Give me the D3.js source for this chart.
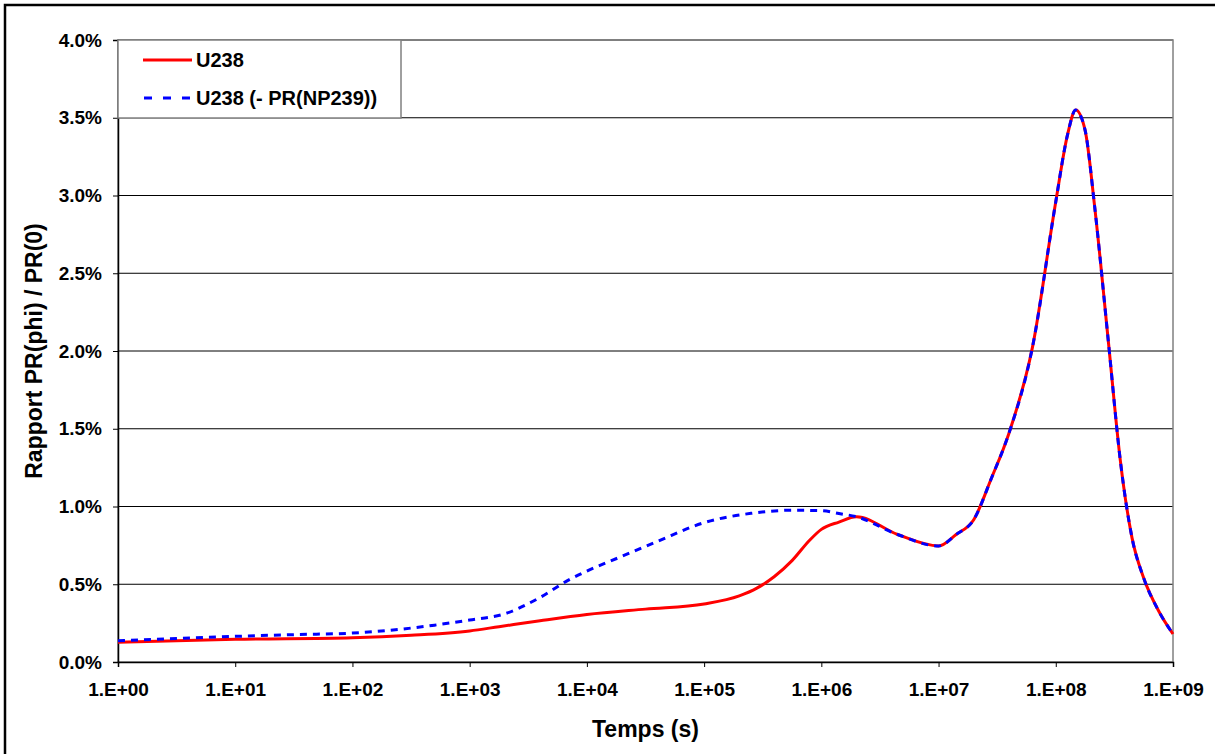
<!DOCTYPE html>
<html>
<head>
<meta charset="utf-8">
<script src="https://cdn.jsdelivr.net/npm/d3@7"></script>
<style>
  html, body { margin: 0; padding: 0; background: #fff; }
  svg { display: block; }
  text { font-family: "Liberation Sans", Arial, sans-serif; font-weight: bold; fill: #000; }
</style>
</head>
<body>
<svg id="chart" width="1215" height="754"></svg>
<script>
// ---- Data (time in seconds as log10 exponent, values in %) ----
const xTickLabels = ["1.E+00","1.E+01","1.E+02","1.E+03","1.E+04","1.E+05","1.E+06","1.E+07","1.E+08","1.E+09"];
const yTickLabels = ["0.0%","0.5%","1.0%","1.5%","2.0%","2.5%","3.0%","3.5%","4.0%"];
const seriesNames = ["U238", "U238 (- PR(NP239))"];

const u238Exp = [0, 1, 2, 2.5, 3, 3.25, 3.6, 4, 4.5, 5, 5.3, 5.45, 5.6, 5.75, 5.9, 6, 6.15, 6.3, 6.65, 7, 7.15, 7.3, 7.45, 7.6, 7.8, 8.0, 8.1, 8.17, 8.25, 8.33, 8.45, 8.55, 8.65, 8.75, 8.88, 9];
const u238Val = [0.127, 0.146, 0.156, 0.172, 0.20, 0.227, 0.265, 0.305, 0.34, 0.373, 0.425, 0.475, 0.55, 0.652, 0.783, 0.853, 0.90, 0.934, 0.82, 0.746, 0.82, 0.915, 1.18, 1.47, 2.02, 2.96, 3.39, 3.55, 3.42, 2.94, 2.05, 1.30, 0.80, 0.54, 0.325, 0.18];

const npExp = [0, 0.3, 1, 1.5, 2, 2.4, 2.7, 3, 3.3, 3.6, 3.85, 4, 4.3, 4.6, 5, 5.4, 5.75, 6, 6.15, 6.3, 6.65, 7, 7.15, 7.3, 7.45, 7.6, 7.8, 8.0, 8.1, 8.17, 8.25, 8.33, 8.45, 8.55, 8.65, 8.75, 8.88, 9];
const npVal = [0.137, 0.146, 0.165, 0.176, 0.186, 0.21, 0.237, 0.27, 0.31, 0.415, 0.53, 0.585, 0.68, 0.775, 0.896, 0.956, 0.976, 0.973, 0.955, 0.934, 0.82, 0.746, 0.82, 0.915, 1.18, 1.47, 2.02, 2.96, 3.39, 3.55, 3.42, 2.94, 2.05, 1.30, 0.80, 0.54, 0.325, 0.18];

const u238 = u238Exp.map((e, i) => ({ t: Math.pow(10, e), v: u238Val[i] }));
const np = npExp.map((e, i) => ({ t: Math.pow(10, e), v: npVal[i] }));

// ---- Layout ----
const svg = d3.select("#chart");
const pLeft = 118, pRight = 1173, pTop = 40, pBottom = 662;

// outer frame
svg.append("rect").attr("x", 5).attr("y", 5).attr("width", 1225).attr("height", 770)
  .attr("fill", "none").attr("stroke", "#000").attr("stroke-width", 2.5);

const x = d3.scaleLog().domain([1, 1e9]).range([pLeft, pRight]);
const y = d3.scaleLinear().domain([0, 4]).range([pBottom, pTop]);

// gridlines
const yTicks = d3.range(0, 9).map(i => i * 0.5);
svg.append("g").selectAll("line").data(yTicks.slice(1)).join("line")
  .attr("x1", pLeft).attr("x2", pRight)
  .attr("y1", d => y(d)).attr("y2", d => y(d))
  .attr("stroke", "#000").attr("stroke-width", 1);

// plot area border (gray)
svg.append("rect").attr("x", pLeft).attr("y", pTop).attr("width", pRight - pLeft).attr("height", pBottom - pTop)
  .attr("fill", "none").attr("stroke", "#808080").attr("stroke-width", 1.5);

// axes
const xTickVals = d3.range(0, 10).map(e => Math.pow(10, e));
const xAxis = d3.axisBottom(x).tickValues(xTickVals).tickSize(5).tickPadding(16)
  .tickFormat((d, i) => xTickLabels[i]);
const gx = svg.append("g").attr("transform", `translate(0,${pBottom})`).call(xAxis);
gx.select(".domain").attr("stroke", "#000").attr("stroke-width", 1.5);
gx.selectAll(".tick line").attr("stroke", "#000");
gx.selectAll("text").style("font-size", "19px").style("font-family", "'Liberation Sans', Arial, sans-serif").style("font-weight", "bold").attr("fill", "#000");

const yAxis = d3.axisLeft(y).tickValues(yTicks).tickSize(5).tickPadding(11)
  .tickFormat((d, i) => yTickLabels[i]);
const gy = svg.append("g").attr("transform", `translate(${pLeft},0)`).call(yAxis);
gy.select(".domain").attr("stroke", "#000").attr("stroke-width", 1.5);
gy.selectAll(".tick line").attr("stroke", "#000");
gy.selectAll("text").style("font-size", "19px").style("font-family", "'Liberation Sans', Arial, sans-serif").style("font-weight", "bold").attr("fill", "#000");

// lines
const line = d3.line().x(d => x(d.t)).y(d => y(d.v)).curve(d3.curveMonotoneX);
svg.append("path").datum(u238).attr("d", line)
  .attr("fill", "none").attr("stroke", "#FF0000").attr("stroke-width", 3);
svg.append("path").datum(np).attr("d", line)
  .attr("fill", "none").attr("stroke", "#0000FF").attr("stroke-width", 3)
  .attr("stroke-dasharray", "7,6");

// axis titles
svg.append("text").attr("x", (pLeft + pRight) / 2).attr("y", 737)
  .attr("text-anchor", "middle").style("font-size", "23px").text("Temps (s)");
svg.append("text").attr("transform", `translate(42,${(pTop + pBottom) / 2}) rotate(-90)`)
  .attr("text-anchor", "middle").style("font-size", "23px").text("Rapport PR(phi) / PR(0)");

// legend
const lg = svg.append("g");
lg.append("rect").attr("x", pLeft).attr("y", pTop).attr("width", 283).attr("height", 78)
  .attr("fill", "#fff").attr("stroke", "#808080").attr("stroke-width", 1.5);
lg.append("line").attr("x1", 143).attr("x2", 192).attr("y1", 60).attr("y2", 60)
  .attr("stroke", "#FF0000").attr("stroke-width", 3);
lg.append("line").attr("x1", 144).attr("x2", 191).attr("y1", 98).attr("y2", 98)
  .attr("stroke", "#0000FF").attr("stroke-width", 3).attr("stroke-dasharray", "8,11");
lg.append("text").attr("x", 196).attr("y", 67).style("font-size", "20px").text(seriesNames[0]);
lg.append("text").attr("x", 196).attr("y", 105).style("font-size", "20px").text(seriesNames[1]);
</script>
</body>
</html>
